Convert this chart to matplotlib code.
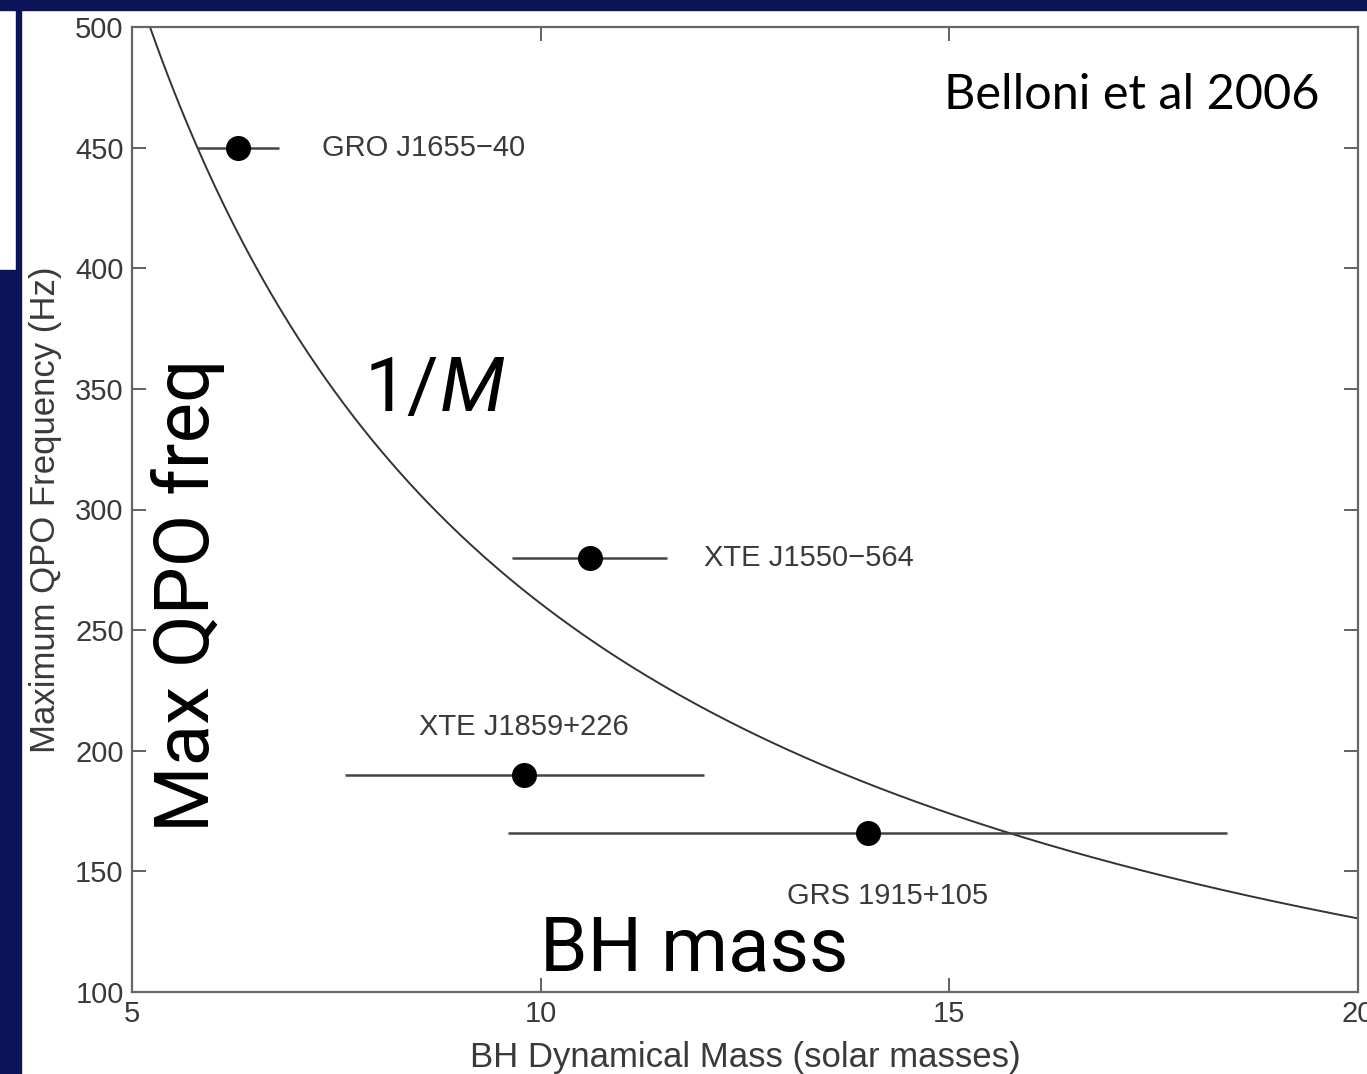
import matplotlib
matplotlib.use("Agg")
import matplotlib.pyplot as plt
import numpy as np
from matplotlib.patches import Rectangle

# black hole sources: dynamical mass (solar masses) with error, max QPO freq (Hz)
sources = ["GRO J1655\u221240", "XTE J1550\u2212564", "XTE J1859+226", "GRS 1915+105"]
mass = [6.3, 10.6, 9.8, 14.0]
mass_err = [0.5, 0.95, 2.2, 4.4]
qpo_freq = [450, 280, 190, 166]

# where each source name is written (x, y, alignment)
label_x = [7.32, 12.0, 9.8, 14.25]
label_y = [450, 280, 210, 140]
label_ha = ["left", "left", "center", "center"]

# 1/M scaling curve
curve_const = 2610.0

xticks = [5, 10, 15, 20]
yticks = [100, 150, 200, 250, 300, 350, 400, 450, 500]

W, H = 1367, 1074
navy = "#0b1459"
gray = "#3a3a3a"
big = dict(fontsize=55, color="black", family="Roboto")

fig = plt.figure(figsize=(W / 100, H / 100), dpi=100)
fig.patch.set_facecolor("white")

# slide background strips
fig.add_artist(Rectangle((0, 1 - 10 / H), 1, 10 / H, transform=fig.transFigure,
                         color=navy, zorder=0))
fig.add_artist(Rectangle((0, 0), 21 / W, 1 - 270 / H, transform=fig.transFigure,
                         color=navy, zorder=0))
fig.add_artist(Rectangle((16 / W, 1 - 270 / H), 5 / W, 260 / H, transform=fig.transFigure,
                         color=navy, zorder=0))

ax = fig.add_axes([132 / W, 1 - 992 / H, (1358 - 132) / W, (992 - 27) / H])

m = np.linspace(5, 20, 400)
ax.plot(m, curve_const / m, color="#333333", lw=1.4, zorder=2)

ax.errorbar(mass, qpo_freq, xerr=mass_err, fmt="o", color="black", ms=17,
            ecolor="#444444", elinewidth=1.8, capsize=0, zorder=3)

for name, lx, ly, ha in zip(sources, label_x, label_y, label_ha):
    ax.text(lx, ly, name, ha=ha, va="center", fontsize=21, color=gray,
            family="Liberation Sans")

ax.set_xlim(5, 20)
ax.set_ylim(100, 500)
ax.set_xticks(xticks)
ax.set_yticks(yticks)
ax.tick_params(direction="in", length=10, width=1.3, top=True, right=True,
               labelsize=21, labelcolor=gray, color="#555555", pad=6)
for lbl in ax.get_xticklabels() + ax.get_yticklabels():
    lbl.set_family("Liberation Sans")
for sp in ax.spines.values():
    sp.set_color("#666666")
    sp.set_linewidth(1.6)

ax.set_xlabel("BH Dynamical Mass (solar masses)", fontsize=25, color=gray,
              family="Liberation Sans")
ax.set_ylabel("Maximum QPO Frequency (Hz)", fontsize=25, color=gray,
              family="Liberation Sans")
ax.xaxis.set_label_coords(0.5, -0.051)
ax.yaxis.set_label_coords(-0.057, 0.5)

# annotations on top of the plot
fig.text(1320 / W, 1 - 95 / H, "Belloni et al 2006", ha="right", va="center",
         fontsize=35, color="black", family="Lato")
one_over = fig.text(365 / W, 1 - 390 / H, "1/", ha="left", va="center", **big)
fig.canvas.draw()
x_end = one_over.get_window_extent().x1
fig.text(x_end / W, 1 - 390 / H, "M", ha="left", va="center", style="italic", **big)
fig.text(540 / W, 1 - 950 / H, "BH mass", ha="left", va="center", **big)
fig.text(188 / W, 1 - 595 / H, "Max QPO freq", ha="center", va="center",
         rotation=90, **big)

fig.savefig("out.png", dpi=100)
